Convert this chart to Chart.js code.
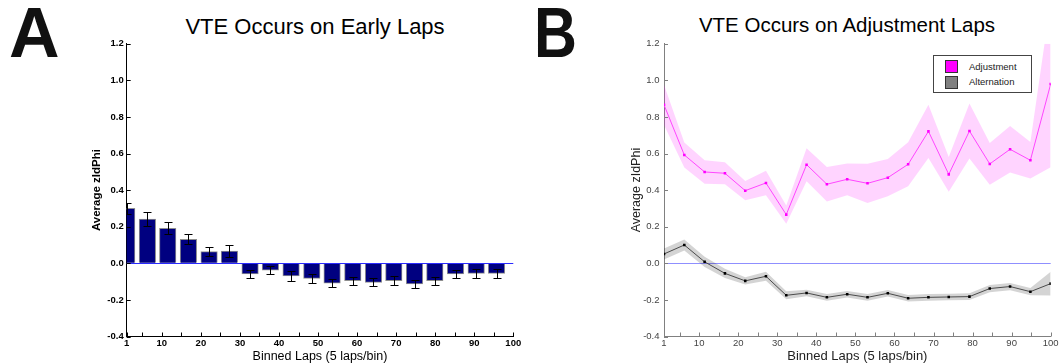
<!DOCTYPE html>
<html>
<head>
<meta charset="utf-8">
<script src="https://cdn.jsdelivr.net/npm/chart.js"></script>
<style>
  body { margin: 0; width: 1061px; height: 364px; overflow: hidden; position: relative; background: #fff;
         font-family: "Liberation Sans", Arial, sans-serif; }
  canvas { position: absolute; top: 0; }
  #chartA { left: 0; }
  #chartB { left: 530px; }
  .letter { position: absolute; top: -2px; font-size: 70px; line-height: 70px; font-weight: bold; color: #111; }
  .title { position: absolute; white-space: nowrap; transform: translateX(-50%); color: #000; }
  #legendB { position: absolute; left: 933px; top: 55px; width: 97px; height: 36px; border: 1px solid #444; background: #fff; }
  #legendB .sw { position: absolute; left: 11px; width: 11px; height: 11px; border: 1px solid #333; }
  #legendB .lbl { position: absolute; left: 35px; font-size: 9.5px; line-height: 10px; color: #222; }
</style>
</head>
<body>
<div class="letter" style="left:9px">A</div>
<div class="letter" style="left:534px; transform:scaleX(0.85); transform-origin:left">B</div>
<div class="title" style="left:315px; top:15.7px; font-size:22px; line-height:22px">VTE Occurs on Early Laps</div>
<div class="title" style="left:847px; top:15.4px; font-size:20.5px; line-height:20.5px">VTE Occurs on Adjustment Laps</div>

<canvas id="chartA" width="530" height="364"></canvas>
<canvas id="chartB" width="531" height="364"></canvas>

<div id="legendB">
  <div class="sw" style="top:4px; background:#ff00ff"></div>
  <div class="lbl" style="top:5.5px">Adjustment</div>
  <div class="sw" style="top:20px; background:#808080"></div>
  <div class="lbl" style="top:20.5px">Alternation</div>
</div>

<script>
// axis ticks shared by both panels
const xTickValues = [1, 5, 10, 15, 20, 25, 30, 35, 40, 45, 50, 55, 60, 65, 70, 75, 80, 85, 90, 95, 100];
const xTickLabels = ['1', '', '10', '', '20', '', '30', '', '40', '', '50', '', '60', '', '70', '', '80', '', '90', '', '100'];
const yTickValues = [-0.4, -0.2, 0, 0.2, 0.4, 0.6, 0.8, 1.0, 1.2];

// panel A: mean zIdPhi per 5-lap bin (last bin falls past lap 100)
const earlyBins = [1, 6.3, 11.5, 16.8, 22.1, 27.3, 32.6, 37.8, 43.1, 48.4, 53.6, 58.9, 64.2, 69.4, 74.7, 79.9, 85.2, 90.5, 95.7];
const earlyMean = [0.300, 0.242, 0.191, 0.131, 0.064, 0.067, -0.058, -0.037, -0.069, -0.082,
                   -0.109, -0.095, -0.104, -0.095, -0.113, -0.095, -0.058, -0.055, -0.055];
const earlySem = [0.031, 0.037, 0.033, 0.027, 0.026, 0.032, 0.024, 0.022, 0.025, 0.024,
                  0.022, 0.021, 0.022, 0.023, 0.020, 0.021, 0.023, 0.024, 0.026];

// panel B: adjustment vs alternation laps
const lapBins = [1, 6.2, 11.4, 16.6, 21.8, 27.1, 32.3, 37.5, 42.7, 47.9, 53.1, 58.3, 63.5, 68.7, 73.9, 79.2, 84.4, 89.6, 94.8, 100];
const adjustMean = [0.866, 0.592, 0.499, 0.492, 0.397, 0.439, 0.266, 0.539, 0.432, 0.459,
                    0.437, 0.468, 0.541, 0.721, 0.486, 0.723, 0.543, 0.623, 0.563, 0.980];
const adjustSem = [0.110, 0.068, 0.064, 0.060, 0.053, 0.067, 0.050, 0.090, 0.094, 0.087,
                   0.107, 0.102, 0.120, 0.145, 0.095, 0.150, 0.114, 0.127, 0.100, 0.455];
const altMean = [0.051, 0.100, 0.008, -0.055, -0.096, -0.071, -0.175, -0.162, -0.186, -0.169,
                 -0.186, -0.164, -0.191, -0.186, -0.184, -0.182, -0.138, -0.127, -0.155, -0.111];
const altSem = [0.030, 0.030, 0.028, 0.025, 0.020, 0.025, 0.022, 0.018, 0.018, 0.018,
                0.018, 0.018, 0.018, 0.018, 0.018, 0.018, 0.020, 0.020, 0.020, 0.065];

Chart.defaults.font.family = '"Liberation Sans", Arial, sans-serif';
Chart.defaults.animation = false;

// small tick marks pointing into the plot, matlab style
const innerTicks = {
  id: 'innerTicks',
  afterDatasetsDraw(chart, args, opts) {
    const { ctx, chartArea: a, scales: { x, y } } = chart;
    ctx.save();
    ctx.strokeStyle = opts.color;
    ctx.lineWidth = 1;
    ctx.beginPath();
    x.ticks.forEach(t => {
      const px = Math.round(x.getPixelForValue(t.value)) + 0.5;
      ctx.moveTo(px, a.bottom);
      ctx.lineTo(px, a.bottom - opts.len);
    });
    y.ticks.forEach(t => {
      const py = Math.round(y.getPixelForValue(t.value)) + 0.5;
      ctx.moveTo(a.left, py);
      ctx.lineTo(a.left + opts.len, py);
    });
    ctx.stroke();
    ctx.restore();
  }
};

// horizontal reference line at zero
const zeroLine = {
  id: 'zeroLine',
  draw(chart, opts) {
    const { ctx, chartArea: a, scales: { y } } = chart;
    const py = Math.round(y.getPixelForValue(0)) + 0.5;
    ctx.save();
    ctx.strokeStyle = opts.color;
    ctx.lineWidth = 1;
    ctx.beginPath();
    ctx.moveTo(a.left, py);
    ctx.lineTo(a.right, py);
    ctx.stroke();
    ctx.restore();
  },
  beforeDatasetsDraw(chart, args, opts) { if (!opts.above) this.draw(chart, opts); },
  afterDatasetsDraw(chart, args, opts) { if (opts.above) this.draw(chart, opts); }
};

// sem whiskers on the bars
const errorBars = {
  id: 'errorBars',
  afterDatasetsDraw(chart, args, opts) {
    const { ctx, chartArea: a, scales: { x, y } } = chart;
    const pts = chart.data.datasets[0].data;
    ctx.save();
    ctx.beginPath();
    ctx.rect(a.left, a.top, a.width, a.height);
    ctx.clip();
    ctx.strokeStyle = '#000';
    ctx.lineWidth = 1;
    ctx.beginPath();
    pts.forEach((p, i) => {
      const px = Math.round(x.getPixelForValue(p.x)) + 0.5;
      const hi = Math.round(y.getPixelForValue(p.y + opts.sem[i])) + 0.5;
      const lo = Math.round(y.getPixelForValue(p.y - opts.sem[i])) + 0.5;
      ctx.moveTo(px, hi); ctx.lineTo(px, lo);
      ctx.moveTo(px - 4, hi); ctx.lineTo(px + 4, hi);
      ctx.moveTo(px - 4, lo); ctx.lineTo(px + 4, lo);
    });
    ctx.stroke();
    ctx.restore();
  }
};

function axes(o) {
  return {
    x: {
      type: 'linear', min: 1, max: 100, offset: false,
      grid: { display: true, drawOnChartArea: false, drawTicks: false, offset: false },
      border: { color: o.axisColor },
      afterBuildTicks: s => { s.ticks = xTickValues.map(v => ({ value: v })); },
      afterFit: s => { s.height = 27.5; },
      ticks: {
        autoSkip: false, maxRotation: 0, padding: o.xPad, color: o.tickColor,
        font: { size: o.tickSize, weight: o.tickWeight },
        callback: (v, i) => xTickLabels[i]
      },
      title: {
        display: true, text: 'Binned Laps (5 laps/bin)', color: o.titleColor,
        font: { size: o.xTitleSize }, padding: { top: 0, bottom: 0 }
      }
    },
    y: {
      min: -0.4, max: 1.2,
      grid: { display: true, drawOnChartArea: false, drawTicks: false },
      border: { color: o.axisColor },
      afterBuildTicks: s => { s.ticks = yTickValues.map(v => ({ value: v })); },
      afterFit: s => { s.width = 44; },
      ticks: {
        padding: o.yPad, color: o.tickColor,
        font: { size: o.tickSize, weight: o.tickWeight },
        callback: v => v.toFixed(1)
      },
      title: {
        display: true, text: 'Average zIdPhi', color: o.titleColor,
        font: { size: o.yTitleSize, weight: o.yTitleWeight }, padding: { top: o.yTitlePad, bottom: 0 }
      }
    }
  };
}

new Chart(document.getElementById('chartA'), {
  type: 'bar',
  data: {
    datasets: [{
      data: earlyBins.map((x, i) => ({ x: x, y: earlyMean[i] })),
      backgroundColor: '#000080',
      borderColor: '#8f8f8f',
      borderWidth: 1,
      barThickness: 16.5
    }]
  },
  options: {
    responsive: false,
    layout: { padding: { left: 82.7, right: 16.7, top: 43.7, bottom: 0 } },
    scales: axes({
      axisColor: '#000', tickColor: '#000', titleColor: '#000',
      tickSize: 9.5, tickWeight: 'bold', xPad: 1, yPad: 3,
      xTitleSize: 12.5, yTitleSize: 11.5, yTitleWeight: 'bold', yTitlePad: 6.9
    }),
    plugins: {
      legend: { display: false },
      tooltip: { enabled: false },
      errorBars: { sem: earlySem },
      zeroLine: { color: '#2a2aff', above: true },
      innerTicks: { color: '#000', len: 4 }
    }
  },
  plugins: [errorBars, zeroLine, innerTicks]
});

function band(mean, sem, sign) {
  return lapBins.map((x, i) => ({ x: x, y: mean[i] + sign * sem[i] }));
}
function line(mean) {
  return lapBins.map((x, i) => ({ x: x, y: mean[i] }));
}
const edge = { borderWidth: 0, pointRadius: 0, tension: 0 };

new Chart(document.getElementById('chartB'), {
  type: 'line',
  data: {
    datasets: [
      { ...edge, data: band(adjustMean, adjustSem, 1), fill: '+1', backgroundColor: 'rgba(255,0,255,0.17)' },
      { ...edge, data: band(adjustMean, adjustSem, -1), fill: false },
      { label: 'Adjustment', data: line(adjustMean), fill: false, borderColor: '#ff55ff', borderWidth: 1,
        pointStyle: 'rect', pointRadius: 1.8, pointBackgroundColor: '#ff00ff', pointBorderWidth: 0, tension: 0 },
      { ...edge, data: band(altMean, altSem, 1), fill: '+1', backgroundColor: 'rgba(0,0,0,0.17)' },
      { ...edge, data: band(altMean, altSem, -1), fill: false },
      { label: 'Alternation', data: line(altMean), fill: false, borderColor: '#5a5a5a', borderWidth: 1,
        pointStyle: 'rect', pointRadius: 1.8, pointBackgroundColor: '#000', pointBorderWidth: 0, tension: 0 }
    ]
  },
  options: {
    responsive: false,
    layout: { padding: { left: 90, right: 10.3, top: 43.7, bottom: 0 } },
    scales: axes({
      axisColor: '#808080', tickColor: '#444', titleColor: '#222',
      tickSize: 9.5, tickWeight: 'normal', xPad: 1, yPad: 4.5,
      xTitleSize: 13, yTitleSize: 12.5, yTitleWeight: 'normal', yTitlePad: 9.5
    }),
    plugins: {
      legend: { display: false },
      tooltip: { enabled: false },
      zeroLine: { color: '#8f8fff', above: false },
      innerTicks: { color: '#808080', len: 4 }
    }
  },
  plugins: [zeroLine, innerTicks]
});
</script>
</body>
</html>
